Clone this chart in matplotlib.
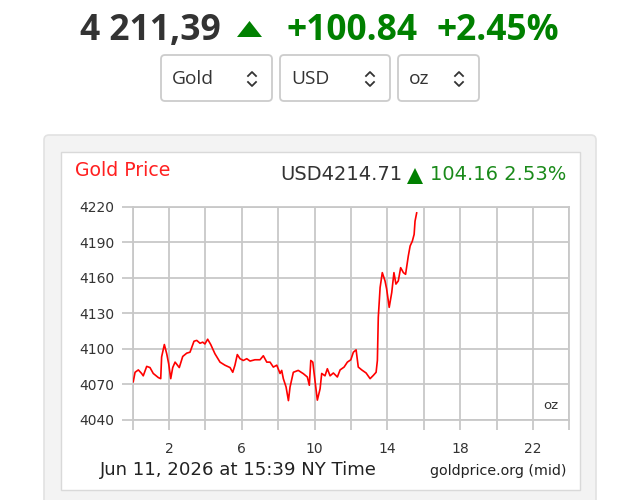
import matplotlib
matplotlib.use("Agg")
import matplotlib.pyplot as plt
from matplotlib.patches import FancyBboxPatch, Polygon
from matplotlib.lines import Line2D

# ---------------- data ----------------
hours = [0.03, 0.13, 0.31, 0.49, 0.58, 0.77, 0.95, 1.13, 1.41, 1.54, 1.59, 1.74, 1.87, 1.98,
         2.09, 2.2, 2.33, 2.56, 2.75, 2.97, 3.15, 3.37, 3.52, 3.7, 3.85, 3.97, 4.12, 4.29,
         4.52, 4.8, 5.07, 5.35, 5.5, 5.62, 5.75, 5.9, 6.08, 6.27, 6.45, 6.72, 7.0, 7.18,
         7.37, 7.55, 7.73, 7.92, 8.1, 8.19, 8.28, 8.43, 8.56, 8.65, 8.83, 9.1, 9.38, 9.6,
         9.71, 9.79, 9.9, 10.02, 10.15, 10.3, 10.39, 10.57, 10.7, 10.85, 11.03, 11.25, 11.4,
         11.62, 11.8, 11.99, 12.13, 12.28, 12.4, 12.59, 12.83, 13.05, 13.23, 13.38, 13.45,
         13.5, 13.6, 13.72, 13.87, 13.96, 14.1, 14.24, 14.36, 14.47, 14.6, 14.73, 14.88,
         15.0, 15.15, 15.25, 15.37, 15.47, 15.52, 15.61]
prices = [4072, 4080, 4082, 4079, 4077, 4085, 4084, 4079, 4075.5, 4074.6, 4093, 4103.5, 4095.7, 4087,
          4074.6, 4084, 4088.6, 4084, 4093.4, 4096.2, 4097, 4106.3, 4107, 4104.6, 4105.5, 4104, 4108, 4103.5,
          4095.7, 4088.6, 4086, 4084, 4080, 4086, 4095, 4091.5, 4090, 4091.5, 4089.5, 4090.6, 4090.6, 4094,
          4088.6, 4088.6, 4084.4, 4086, 4079, 4081.6, 4074.6, 4067.6, 4056, 4067.6, 4080, 4081.6, 4078.8, 4076,
          4069, 4090, 4088.6, 4073, 4056.4, 4066, 4079, 4077, 4083, 4077, 4079.4, 4076, 4082,
          4084.4, 4088.6, 4090.6, 4097, 4099, 4084.4, 4082, 4079.4, 4074.6, 4077.4, 4080, 4090,
          4126.5, 4151.8, 4164.4, 4157.4, 4150.5, 4135, 4147.6, 4164.4, 4154.7, 4157.4, 4168.6, 4164.4,
          4163, 4178.5, 4187, 4191, 4196.8, 4208, 4215]
y_ticks = [4040, 4070, 4100, 4130, 4160, 4190, 4220]
x_grid = list(range(0, 25, 2))
x_labels = ["" if (h - 2) % 4 else str(h) for h in x_grid]

header_price = "4 211,39"
header_change = "+100.84"
header_pct = "+2.45%"
selectors = ["Gold", "USD", "oz"]
chart_title = "Gold Price"
chart_price = "USD4214.71"
chart_change = "104.16 2.53%"
date_text = "Jun 11, 2026 at 15:39 NY Time"
source_text = "goldprice.org (mid)"
unit_text = "oz"

DARK = "#333333"
GREEN = "#008000"
GRID = "#c8c8c8"

W, H = 640, 500
fig = plt.figure(figsize=(W / 100, H / 100), dpi=100)
fig.patch.set_facecolor("white")

bg = fig.add_axes([0, 0, 1, 1])
bg.set_xlim(0, W)
bg.set_ylim(H, 0)
bg.axis("off")

# ---- header ----
hfont = dict(family="Open Sans", fontweight="bold", fontsize=25.5, va="center")
bg.text(80, 31, header_price, color=DARK, ha="left", **hfont)
bg.add_patch(Polygon([[237, 37], [262, 37], [249.5, 21]], closed=True, color=GREEN, lw=0))
bg.text(287, 31, header_change, color=GREEN, ha="left", **hfont)
bg.text(437, 31, header_pct, color=GREEN, ha="left", **hfont)

# ---- selectors ----
boxes = [(161, 272), (280, 390), (398, 479)]
for (x0, x1), label in zip(boxes, selectors):
    bg.add_patch(FancyBboxPatch((x0, 55), x1 - x0, 46, boxstyle="round,pad=0,rounding_size=4",
                                fc="white", ec="#cccccc", lw=1.3))
    bg.text(x0 + 11, 78.5, label, family="Open Sans", fontsize=13.8, color=DARK, ha="left", va="center")
    cx = x1 - 20
    bg.add_line(Line2D([cx - 4, cx, cx + 4], [76, 72, 76], color=DARK, lw=1.3))
    bg.add_line(Line2D([cx - 4, cx, cx + 4], [82, 86, 82], color=DARK, lw=1.3))

# ---- panel ----
bg.add_patch(FancyBboxPatch((44, 135), 552, 400, boxstyle="round,pad=0,rounding_size=5",
                            fc="#f3f3f3", ec="#e2e2e2", lw=1.2))
bg.add_patch(FancyBboxPatch((60.5, 151.5), 519, 338, boxstyle="square,pad=0",
                            fc="white", ec="#d9d9d9", lw=1.0))

bg.text(75, 170, chart_title, family="DejaVu Sans", fontsize=13.6, color="#ff2020", ha="left", va="center")
bg.text(566, 175, chart_change, family="DejaVu Sans", fontsize=14, color="#1a8a1a",
        ha="right", va="center")
bg.add_patch(Polygon([[407, 184], [423, 184], [415, 168]], closed=True, color=GREEN, lw=0))
bg.text(402, 175, chart_price, family="DejaVu Sans", fontsize=14, color=DARK, ha="right", va="center")

bg.text(100, 470, date_text, family="DejaVu Sans", fontsize=13.1, color="#222222", ha="left", va="center")
bg.text(567, 471, source_text, family="DejaVu Sans", fontsize=10.3, color="#222222", ha="right", va="center")

# ---- plot area ----
x0p, x1p, y0p, y1p = 132.7, 569.3, 207, 419.5
ax = fig.add_axes([x0p / W, 1 - y1p / H, (x1p - x0p) / W, (y1p - y0p) / H])
ax.set_facecolor("white")
ax.set_xlim(0, 24)
ax.set_ylim(4040, 4220)
ax.set_xticks(x_grid)
ax.set_xticklabels(x_labels)
ax.set_yticks(y_ticks)
ax.set_yticklabels([str(v) for v in y_ticks])
ax.grid(True, color=GRID, lw=1.3)
ax.set_axisbelow(True)
for s in ax.spines.values():
    s.set_color(GRID)
    s.set_linewidth(1.3)
ax.tick_params(axis="both", color=GRID, width=1.3, labelcolor=DARK, labelsize=10)
ax.tick_params(axis="x", length=7, pad=9)
ax.tick_params(axis="y", length=8, pad=5)
for lab in ax.get_xticklabels() + ax.get_yticklabels():
    lab.set_family("DejaVu Sans")

ax.plot(hours, prices, color="#ff0000", lw=1.2, zorder=3)
ax.text(0.975, 0.035, unit_text, transform=ax.transAxes, family="DejaVu Sans", fontsize=9.5,
        color=DARK, ha="right", va="bottom")

fig.savefig("out.png", dpi=100, facecolor="white")
